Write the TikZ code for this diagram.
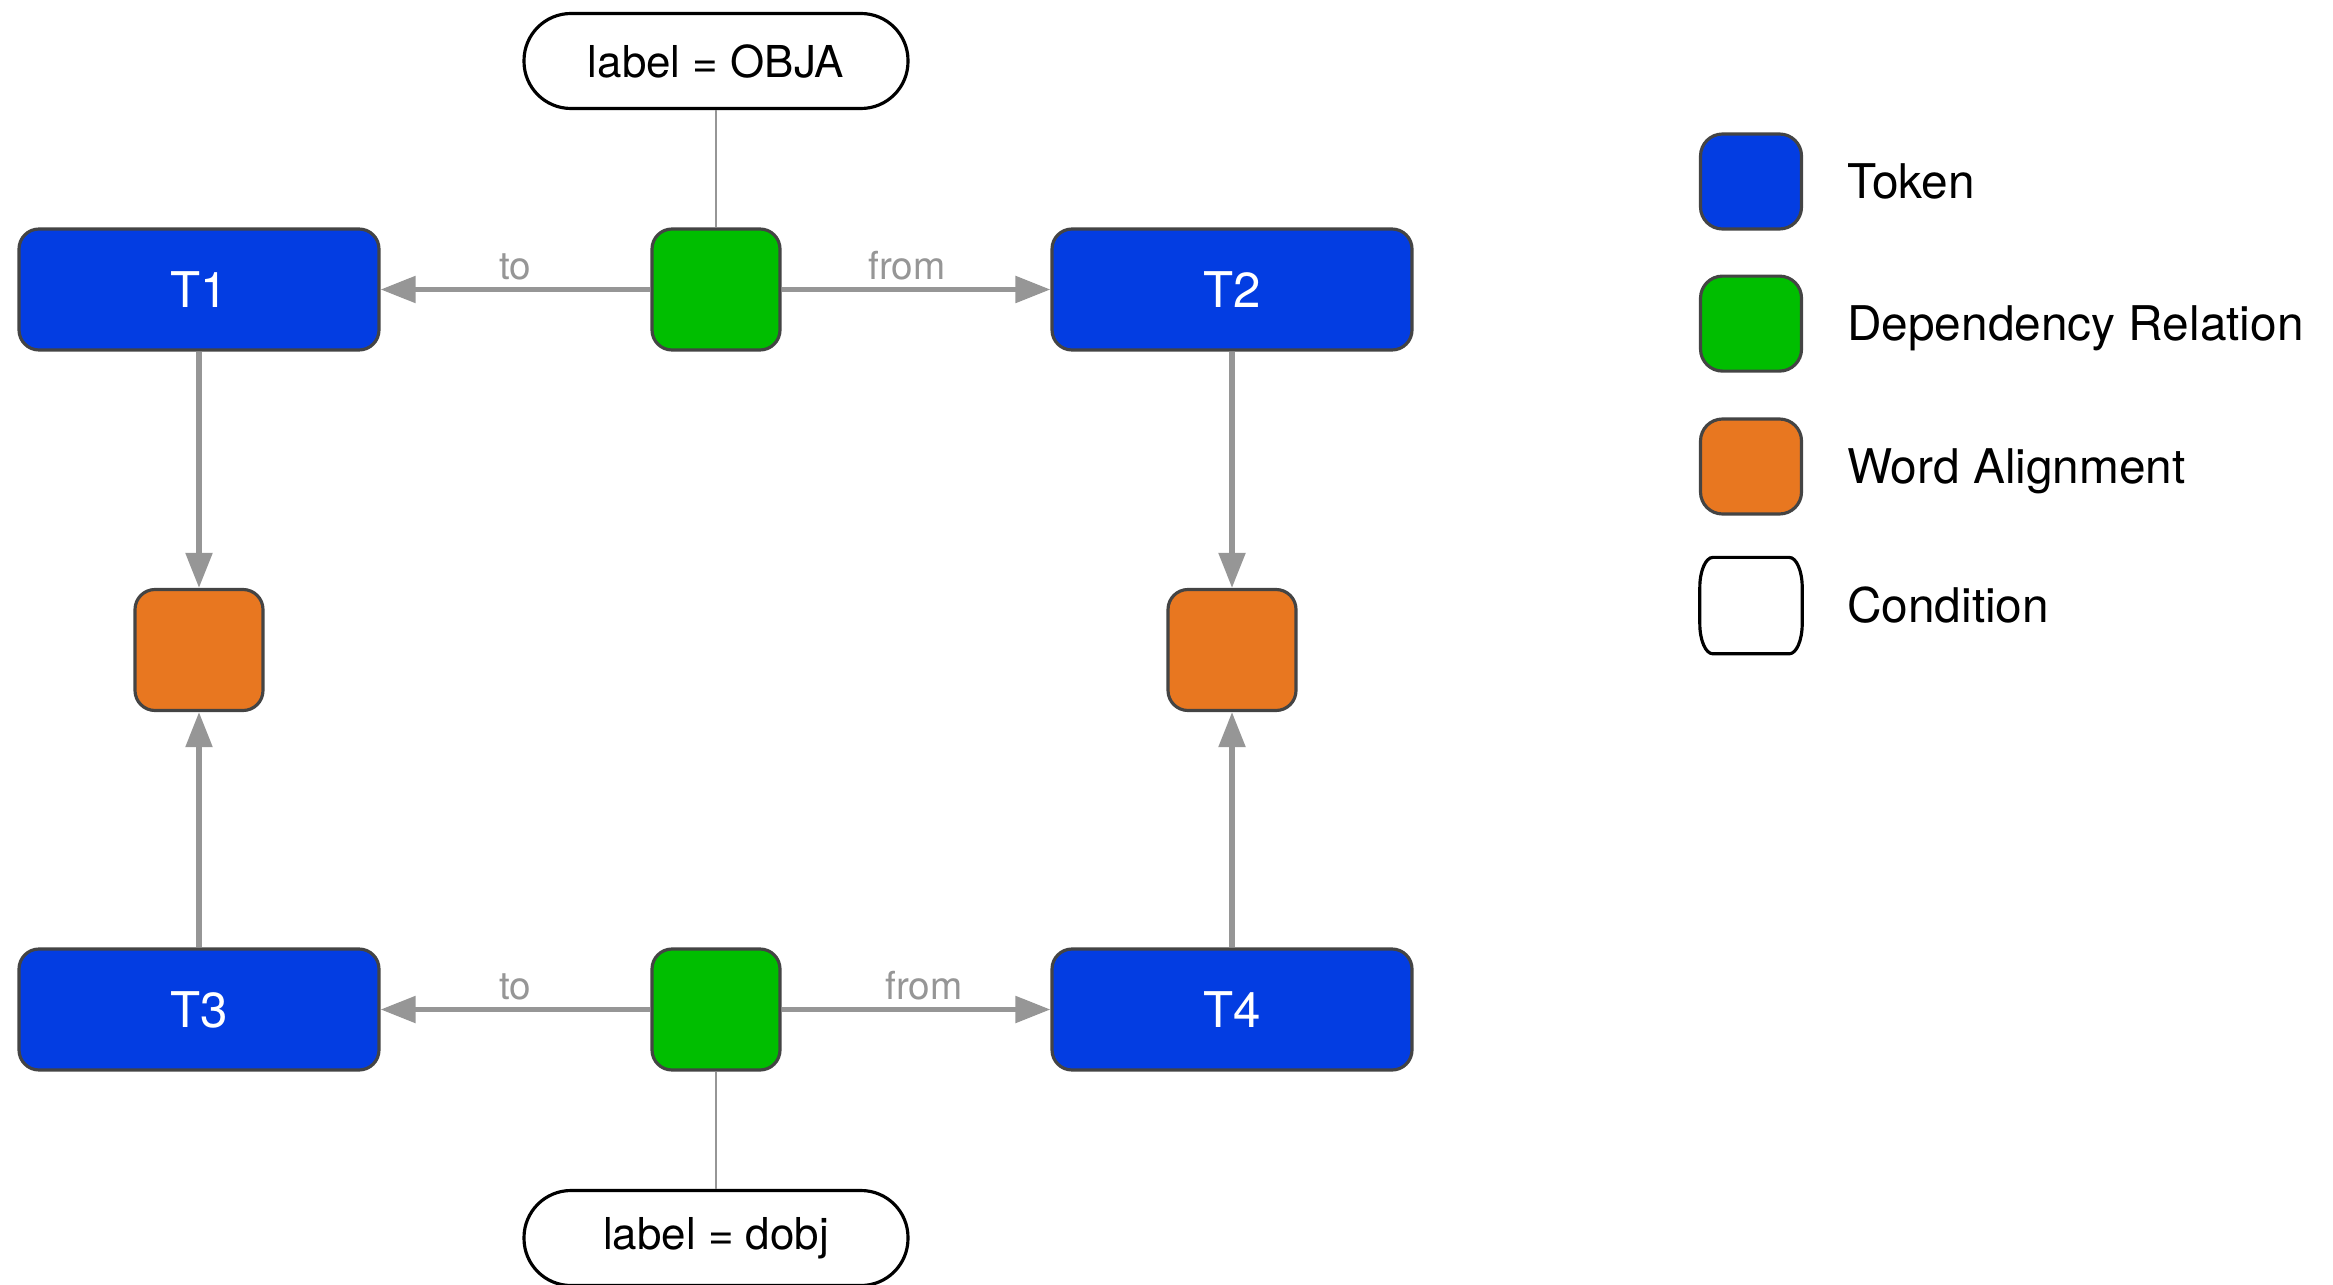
\documentclass[tikz,border=0pt]{standalone}
\usepackage{fontspec}
\setmainfont{TeX Gyre Heros}
\usepackage{tikz}
\usetikzlibrary{arrows.meta}
\usetikzlibrary{calc}
\tikzset{>={Triangle[length=3.5mm,width=2.6mm]}}

\definecolor{tokblue}{RGB}{3,61,226}
\definecolor{depgreen}{RGB}{0,190,0}
\definecolor{alignorange}{RGB}{232,119,32}
\definecolor{edgegray}{RGB}{150,150,150}
\definecolor{bordergray}{RGB}{68,68,68}

\tikzset{
  token/.style={draw=bordergray, line width=0.9pt, fill=tokblue, rounded corners=0.2cm,
    minimum width=3.6cm, minimum height=1.21cm, text=white, font=\fontsize{14}{16}\selectfont},
  deprel/.style={draw=bordergray, line width=0.9pt, fill=depgreen, rounded corners=0.2cm,
    minimum width=1.28cm, minimum height=1.21cm},
  wordalign/.style={draw=bordergray, line width=0.9pt, fill=alignorange, rounded corners=0.2cm,
    minimum width=1.28cm, minimum height=1.21cm},
  cond/.style={draw=black, line width=0.9pt, fill=white, rounded corners=0.47cm,
    minimum width=3.84cm, minimum height=0.95cm, font=\fontsize{12.5}{15}\selectfont},
  legbox/.style={draw=bordergray, line width=0.9pt, rounded corners=0.22cm,
    minimum width=1.01cm, minimum height=0.95cm},
  legtext/.style={anchor=base west, inner sep=0pt, font=\fontsize{13.6}{16}\selectfont},
  link/.style={draw=edgegray, line width=1.5pt, ->},
  condlink/.style={draw=edgegray, line width=0.6pt},
  rellabel/.style={midway, above, inner sep=2pt, text=edgegray, font=\fontsize{11}{13}\selectfont}
}

\begin{document}
\begin{tikzpicture}
    \useasboundingbox (0,0) rectangle (23.33,-12.85);

    %tokens
    \node[token] (T1) at (1.99, -2.895) {T1};
    \node[token] (T2) at (12.32, -2.895) {T2};
    \node[token] (T3) at (1.99, -10.095) {T3};
    \node[token] (T4) at (12.32, -10.095) {T4};

    %relations
    \node[deprel] (rel1) at (7.16, -2.895) {};
    \node[deprel] (rel2) at (7.16, -10.095) {};

    %alignments
    \node[wordalign] (align1) at (1.99, -6.50) {};
    \node[wordalign] (align2) at (12.32, -6.50) {};

    %conditions
    \node[cond] (cond1) at (7.16, -0.61) {label = OBJA};
    \node[cond] (cond2) at (7.16, -12.38) {label = dobj};

    % edges
    \draw[link] (rel1) -- (T1) node[rellabel] {to};
    \draw[link] (rel1) -- (T2) node[rellabel, xshift=-0.9mm] {from};
    \draw[link] (rel2) -- (T3) node[rellabel] {to};
    \draw[link] (rel2) -- (T4) node[rellabel, xshift=0.8mm] {from};
    \draw[link] (T1) -- (align1);
    \draw[link] (T2) -- (align2);
    \draw[link] (T3) -- (align1);
    \draw[link] (T4) -- (align2);
    \draw[condlink] (cond1) -- (rel1);
    \draw[condlink] (rel2) -- (cond2);

    % legend
    \node[legbox, fill=tokblue] (legtok) at (17.51, -1.815) {};
    \node[legbox, fill=depgreen] (legrel) at (17.51, -3.236) {};
    \node[legbox, fill=alignorange] (legalign) at (17.51, -4.665) {};
    \node[minimum width=1.01cm, minimum height=0.95cm] (legcond) at (17.51, -6.056) {};
    \draw[black, line width=0.9pt]
      ($(legcond.north west)+(0.13,0)$) -- ($(legcond.north east)+(-0.13,0)$)
      arc[start angle=90, end angle=0, x radius=0.13, y radius=0.3]
      -- ($(legcond.south east)+(0,0.3)$)
      arc[start angle=0, end angle=-90, x radius=0.13, y radius=0.3]
      -- ($(legcond.south west)+(0.13,0)$)
      arc[start angle=270, end angle=180, x radius=0.13, y radius=0.3]
      -- ($(legcond.north west)+(0,-0.3)$)
      arc[start angle=180, end angle=90, x radius=0.13, y radius=0.3] -- cycle;

    \node[legtext] (legtoktext) at ($(legtok.center)+(0.955,-0.17)$) {Token};
    \node[legtext] (legreltext) at ($(legrel.center)+(0.955,-0.17)$) {Dependency Relation};
    \node[legtext] (legaligntext) at ($(legalign.center)+(0.955,-0.17)$) {Word Alignment};
    \node[legtext] (legcondtext) at ($(legcond.center)+(0.955,-0.17)$) {Condition};
\end{tikzpicture}
\end{document}
